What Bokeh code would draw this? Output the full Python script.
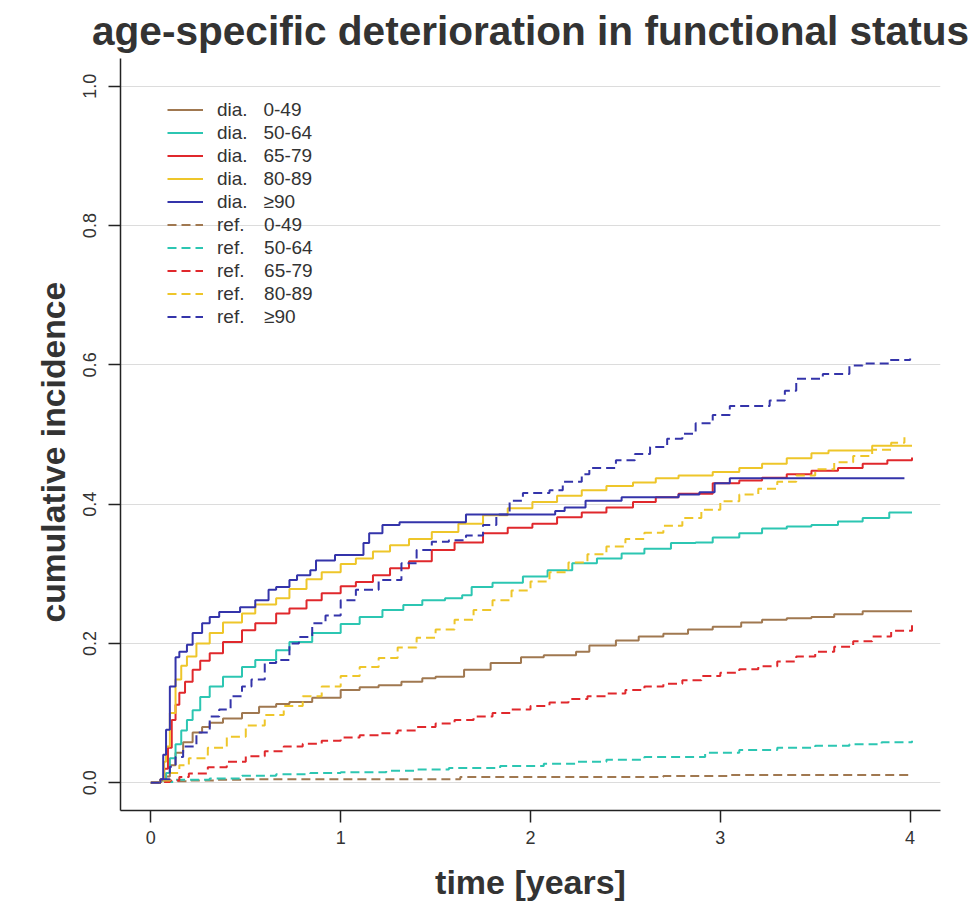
import math
from bokeh.plotting import figure
from bokeh.models import Range1d, FixedTicker, Legend, LegendItem, Title
from bokeh.embed import file_html
from bokeh.resources import INLINE

# ---------------- data ----------------
age_groups = ["0-49", "50-64", "65-79", "80-89", "\u226590"]
x_ticks = [0, 1, 2, 3, 4]
y_ticks = [0.0, 0.2, 0.4, 0.6, 0.8, 1.0]
y_tick_labels = ["0.0", "0.2", "0.4", "0.6", "0.8", "1.0"]

# diagnosed cohort (solid lines)
dia_0_49_t = [0, 0.05, 0.08, 0.1, 0.13, 0.17, 0.22, 0.27, 0.31, 0.38, 0.48, 0.57, 0.66, 0.73, 0.85, 1.0, 1.1, 1.2,
              1.32, 1.43, 1.5, 1.65, 1.79, 1.95, 2.07, 2.24, 2.31, 2.45, 2.57, 2.7, 2.83, 2.96, 3.11, 3.22, 3.35,
              3.48, 3.6, 3.75, 4.01]
dia_0_49_v = [0, 0.003, 0.009, 0.025, 0.043, 0.058, 0.072, 0.08, 0.086, 0.092, 0.1, 0.109, 0.113, 0.116, 0.122,
              0.133, 0.137, 0.14, 0.145, 0.15, 0.152, 0.162, 0.172, 0.18, 0.183, 0.188, 0.197, 0.204, 0.21, 0.214,
              0.22, 0.224, 0.23, 0.234, 0.236, 0.238, 0.242, 0.246, 0.246]

dia_50_64_t = [0, 0.05, 0.08, 0.1, 0.13, 0.16, 0.19, 0.22, 0.26, 0.31, 0.38, 0.48, 0.55, 0.66, 0.73, 0.85, 1.0, 1.1,
               1.22, 1.33, 1.43, 1.55, 1.64, 1.69, 1.8, 1.96, 2.09, 2.22, 2.35, 2.48, 2.6, 2.74, 2.87, 2.96, 3.1,
               3.22, 3.35, 3.48, 3.62, 3.75, 3.89, 4.01]
dia_50_64_v = [0, 0.003, 0.014, 0.035, 0.055, 0.075, 0.09, 0.104, 0.123, 0.138, 0.152, 0.166, 0.176, 0.19, 0.202,
               0.215, 0.228, 0.238, 0.248, 0.255, 0.262, 0.265, 0.269, 0.281, 0.287, 0.296, 0.305, 0.315, 0.322,
               0.329, 0.336, 0.344, 0.345, 0.352, 0.358, 0.365, 0.368, 0.37, 0.375, 0.38, 0.388, 0.388]

dia_65_79_t = [0, 0.05, 0.07, 0.09, 0.11, 0.13, 0.15, 0.18, 0.22, 0.26, 0.31, 0.38, 0.48, 0.55, 0.66, 0.73, 0.82, 0.9,
               1.0, 1.08, 1.17, 1.26, 1.36, 1.48, 1.6, 1.75, 1.88, 2.01, 2.14, 2.27, 2.4, 2.54, 2.66, 2.78, 2.96,
               3.1, 3.22, 3.35, 3.48, 3.62, 3.75, 3.88, 4.01]
dia_65_79_v = [0, 0.004, 0.02, 0.05, 0.09, 0.112, 0.129, 0.145, 0.162, 0.175, 0.186, 0.202, 0.219, 0.229, 0.243,
               0.25, 0.262, 0.272, 0.282, 0.288, 0.298, 0.308, 0.318, 0.334, 0.345, 0.358, 0.366, 0.372, 0.381,
               0.388, 0.395, 0.403, 0.41, 0.415, 0.43, 0.434, 0.438, 0.443, 0.448, 0.452, 0.458, 0.463, 0.467]

dia_80_89_t = [0, 0.05, 0.07, 0.08, 0.1, 0.13, 0.16, 0.19, 0.24, 0.31, 0.38, 0.48, 0.55, 0.66, 0.73, 0.82, 0.9, 1.0,
               1.08, 1.17, 1.26, 1.36, 1.48, 1.62, 1.75, 1.88, 2.01, 2.14, 2.27, 2.4, 2.54, 2.66, 2.78, 2.96, 3.1,
               3.22, 3.35, 3.48, 3.57, 3.8, 4.01]
dia_80_89_v = [0, 0.005, 0.03, 0.052, 0.1, 0.148, 0.168, 0.181, 0.2, 0.215, 0.23, 0.243, 0.256, 0.265, 0.278,
               0.292, 0.302, 0.314, 0.322, 0.332, 0.341, 0.35, 0.36, 0.372, 0.384, 0.394, 0.403, 0.412, 0.42,
               0.426, 0.431, 0.437, 0.441, 0.446, 0.452, 0.458, 0.466, 0.473, 0.477, 0.484, 0.484]

dia_90_t = [0, 0.05, 0.065, 0.08, 0.1, 0.13, 0.15, 0.19, 0.22, 0.27, 0.31, 0.36, 0.47, 0.55, 0.62, 0.66, 0.73, 0.77,
            0.84, 0.87, 0.97, 1.12, 1.15, 1.22, 1.31, 1.66, 2.13, 2.18, 2.29, 2.48, 2.78, 2.89, 2.97, 3.05, 3.97]
dia_90_v = [0, 0.005, 0.04, 0.076, 0.138, 0.18, 0.188, 0.198, 0.215, 0.229, 0.238, 0.245, 0.252, 0.262, 0.277,
            0.281, 0.291, 0.298, 0.305, 0.319, 0.327, 0.344, 0.358, 0.37, 0.374, 0.385, 0.39, 0.395, 0.405, 0.41,
            0.414, 0.417, 0.43, 0.437, 0.437]

# reference population (dashed lines)
ref_0_49_t = [0, 0.05, 0.1, 0.2, 0.35, 0.5, 1.63, 2.7, 3.05, 4.0]
ref_0_49_v = [0, 0.001, 0.002, 0.003, 0.004, 0.005, 0.008, 0.0095, 0.011, 0.011]

ref_50_64_t = [0, 0.05, 0.12, 0.31, 0.48, 0.66, 0.84, 1.0, 1.24, 1.4, 1.57, 1.84, 2.07, 2.25, 2.4, 2.6, 2.92, 3.1,
               3.3, 3.5, 3.68, 3.85, 4.01]
ref_50_64_v = [0, 0.001, 0.004, 0.006, 0.01, 0.012, 0.014, 0.015, 0.017, 0.019, 0.021, 0.024, 0.027, 0.03, 0.033,
               0.037, 0.043, 0.047, 0.05, 0.053, 0.055, 0.058, 0.06]

ref_65_79_t = [0, 0.05, 0.1, 0.15, 0.2, 0.3, 0.4, 0.5, 0.6, 0.7, 0.8, 0.9, 1.0, 1.1, 1.2, 1.3, 1.4, 1.5, 1.6, 1.7,
               1.8, 1.9, 2.0, 2.1, 2.2, 2.3, 2.4, 2.5, 2.6, 2.7, 2.8, 2.9, 3.0, 3.1, 3.2, 3.3, 3.4, 3.5, 3.6, 3.7,
               3.8, 3.9, 4.01]
ref_65_79_v = [0, 0.001, 0.003, 0.008, 0.013, 0.022, 0.03, 0.038, 0.045, 0.052, 0.056, 0.06, 0.065, 0.068, 0.071,
               0.075, 0.08, 0.085, 0.09, 0.095, 0.1, 0.105, 0.11, 0.115, 0.12, 0.124, 0.128, 0.133, 0.138, 0.142,
               0.147, 0.153, 0.158, 0.163, 0.167, 0.174, 0.181, 0.188, 0.195, 0.203, 0.21, 0.218, 0.226]

ref_80_89_t = [0, 0.05, 0.1, 0.15, 0.2, 0.3, 0.4, 0.5, 0.6, 0.7, 0.8, 0.9, 1.0, 1.1, 1.2, 1.3, 1.4, 1.5, 1.6, 1.7,
               1.8, 1.9, 2.0, 2.1, 2.2, 2.3, 2.4, 2.5, 2.6, 2.7, 2.8, 2.9, 3.0, 3.1, 3.2, 3.3, 3.4, 3.5, 3.6, 3.7,
               3.8, 3.9, 3.97]
ref_80_89_v = [0, 0.003, 0.014, 0.025, 0.035, 0.05, 0.066, 0.082, 0.097, 0.11, 0.124, 0.138, 0.153, 0.166, 0.179,
               0.194, 0.208, 0.22, 0.234, 0.248, 0.262, 0.276, 0.289, 0.302, 0.316, 0.328, 0.339, 0.35, 0.359,
               0.369, 0.38, 0.392, 0.404, 0.414, 0.422, 0.432, 0.441, 0.45, 0.46, 0.469, 0.478, 0.488, 0.496]

ref_90_t = [0, 0.05, 0.1, 0.13, 0.17, 0.24, 0.31, 0.36, 0.42, 0.48, 0.53, 0.6, 0.66, 0.73, 0.78, 0.85, 0.92, 1.0,
            1.08, 1.2, 1.32, 1.4, 1.48, 1.57, 1.66, 1.75, 1.82, 1.89, 1.96, 2.1, 2.17, 2.27, 2.31, 2.45, 2.55, 2.63,
            2.72, 2.8, 2.87, 2.96, 3.05, 3.26, 3.34, 3.4, 3.54, 3.68, 3.75, 3.89, 4.0]
ref_90_v = [0, 0.005, 0.023, 0.037, 0.052, 0.072, 0.095, 0.105, 0.124, 0.138, 0.148, 0.172, 0.176, 0.2, 0.209,
            0.229, 0.24, 0.262, 0.277, 0.291, 0.315, 0.334, 0.346, 0.348, 0.355, 0.37, 0.385, 0.405, 0.416, 0.42,
            0.432, 0.443, 0.452, 0.463, 0.472, 0.482, 0.494, 0.501, 0.516, 0.528, 0.541, 0.549, 0.563, 0.58,
            0.587, 0.599, 0.602, 0.607, 0.609]

dia_series = [(dia_0_49_t, dia_0_49_v), (dia_50_64_t, dia_50_64_v), (dia_65_79_t, dia_65_79_v),
              (dia_80_89_t, dia_80_89_v), (dia_90_t, dia_90_v)]
ref_series = [(ref_0_49_t, ref_0_49_v), (ref_50_64_t, ref_50_64_v), (ref_65_79_t, ref_65_79_v),
              (ref_80_89_t, ref_80_89_v), (ref_90_t, ref_90_v)]

colors = ["#A07850", "#2CC6B2", "#E0282C", "#EEC62A", "#3434AA"]

# ---------------- figure ----------------
TXT = "#333333"
FONT = "Liberation Sans"

p = figure(width=974, height=904, x_range=Range1d(-0.16, 4.16), y_range=Range1d(-0.04, 1.04),
           output_backend="svg", toolbar_location=None,
           min_border_left=120, min_border_right=34, min_border_top=58, min_border_bottom=94)
p.outline_line_color = None
p.background_fill_color = "white"
p.border_fill_color = "white"

p.title.text = "age-specific deterioration in functional status"
p.title.text_font = FONT
p.title.text_font_size = "40.6px"
p.title.text_font_style = "bold"
p.title.text_color = TXT
p.title.align = "center"
p.title.standoff = 10

p.xaxis.ticker = FixedTicker(ticks=x_ticks)
p.yaxis.ticker = FixedTicker(ticks=y_ticks)
p.yaxis.major_label_overrides = {t: l for t, l in zip(y_ticks, y_tick_labels)}
p.yaxis.major_label_orientation = "vertical"

for ax in (p.xaxis, p.yaxis):
    ax.axis_line_color = "#222222"
    ax.axis_line_width = 1.5
    ax.major_tick_line_color = "#222222"
    ax.major_tick_line_width = 1.5
    ax.major_tick_out = 12
    ax.major_tick_in = 0
    ax.minor_tick_line_color = None
    ax.major_label_text_font = FONT
    ax.major_label_text_font_size = "18px"
    ax.major_label_text_color = TXT

p.xaxis.axis_label = "time [years]"
p.xaxis.axis_label_text_font = FONT
p.xaxis.axis_label_text_font_size = "34px"
p.xaxis.axis_label_text_font_style = "bold"
p.xaxis.axis_label_text_color = TXT
p.xaxis.major_label_standoff = 8
p.xaxis.axis_label_standoff = 16
p.yaxis.major_label_standoff = 12

# y axis title as a side title (lets it sit a little below the frame centre, as in the reference)
ytitle = Title(text="cumulative incidence", align="left", offset=188, standoff=18,
               text_font=FONT, text_font_size="33.7px", text_font_style="bold", text_color=TXT)
p.add_layout(ytitle, "left")

p.xgrid.grid_line_color = None
p.ygrid.grid_line_color = "#dcdcdc"
p.ygrid.grid_line_width = 1

items = []
for (t, v), c, g in zip(dia_series, colors, age_groups):
    r = p.step(t, v, mode="after", line_color=c, line_width=2)
    items.append(LegendItem(label="dia.\u00a0\u00a0\u00a0" + g, renderers=[r]))
for (t, v), c, g in zip(ref_series, colors, age_groups):
    r = p.step(t, v, mode="after", line_color=c, line_width=2, line_dash="9 5")
    items.append(LegendItem(label="ref.\u00a0\u00a0\u00a0\u2009" + g, renderers=[r]))

legend = Legend(items=items, location=(47, 482))
legend.label_text_font = FONT
legend.label_text_font_size = "19px"
legend.label_text_color = TXT
legend.glyph_width = 36
legend.glyph_height = 23
legend.label_height = 23
legend.label_standoff = 14
legend.spacing = 0
legend.padding = 0
legend.margin = 0
legend.border_line_alpha = 0
legend.background_fill_alpha = 0
p.add_layout(legend)

open("out.html", "w").write(file_html(p, INLINE))
